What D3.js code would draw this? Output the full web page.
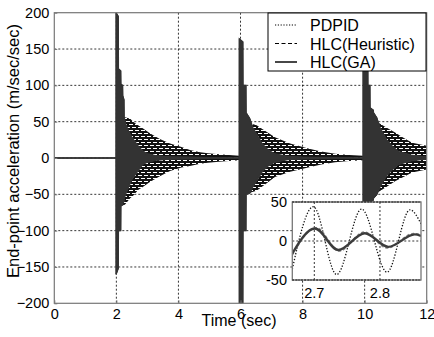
<!DOCTYPE html>
<html>
<head>
<meta charset="utf-8">
<script src="https://cdn.jsdelivr.net/npm/d3@7"></script>
<style>
  body { margin: 0; background: #fff; }
  svg { display: block; font-family: "Liberation Sans", Arial, sans-serif; }
</style>
</head>
<body>
<div id="chart"></div>
<script>
// envelopes: [time, upper, lower]
const pdpidEnv = [
  [0, 0, 0], [1.995, 0, 0],
  [2.0, 60, -70], [2.28, 56, -64], [2.45, 54, -55], [2.54, 50, -52], [2.7, 45, -44],
  [2.85, 41, -40], [3.08, 34, -33], [3.4, 26, -25], [3.73, 20, -18], [4.1, 15, -13],
  [4.37, 11, -11], [4.7, 8, -8], [4.95, 6.5, -6.5], [5.3, 5, -5], [5.96, 3, -3],
  [5.97, 50, -50], [6.3, 48, -48], [6.52, 45, -45], [6.8, 37, -36], [7.11, 28.6, -26],
  [7.6, 20, -19], [8.18, 13, -13], [8.6, 9, -9], [9.05, 6, -6], [9.5, 4, -4], [9.95, 3, -3],
  [9.96, 52, -52], [10.43, 49, -47], [10.7, 42, -40], [10.98, 35, -32], [11.25, 28, -26],
  [11.53, 21, -20], [12, 17, -16]
];
const heuristicEnv = [
  [0, 0, 0], [1.99, 0, 0],
  [1.992, 200, -160], [2.062, 195, -152], [2.066, 123, -100], [2.14, 120, -100],
  [2.145, 102, -65], [2.2, 100, -65], [2.205, 86, -62], [2.245, 80, -60],
  [2.25, 57, -56], [2.3, 47, -50], [2.4, 37, -40], [2.5, 29, -30], [2.7, 17, -18],
  [2.85, 10, -9], [3.0, 6, -6], [3.3, 3, -3], [3.8, 1.5, -1.5], [5.96, 0, 0],
  [5.962, 164, -200], [6.075, 160, -200], [6.08, 100, -100], [6.175, 100, -100],
  [6.18, 63, -50], [6.3, 55, -49], [6.4, 42, -40], [6.55, 31, -30], [6.7, 20, -19],
  [6.9, 11, -11], [7.1, 6, -6], [7.5, 2.5, -2.5], [8.0, 1, -1], [9.95, 0, 0],
  [9.952, 185, -150], [10.1, 180, -150], [10.105, 100, -61], [10.17, 100, -61],
  [10.175, 69, -61], [10.28, 66, -58], [10.285, 63, -56], [10.39, 56, -51],
  [10.5, 42, -40], [10.7, 26, -25], [10.9, 16, -16], [11.1, 9, -9], [11.5, 4, -4], [12, 1.5, -1.5]
];
const gaEnv = [
  [0, 0, 0], [1.99, 0, 0],
  [1.992, 200, -160], [2.062, 195, -152], [2.066, 123, -100], [2.14, 120, -100],
  [2.145, 102, -65], [2.2, 100, -65], [2.205, 86, -62], [2.245, 80, -60],
  [2.25, 56, -55], [2.3, 45, -48], [2.4, 35, -38], [2.5, 27, -28], [2.7, 16, -16],
  [2.85, 9, -8], [3.0, 5, -5], [3.3, 2.5, -2.5], [3.8, 1, -1], [5.96, 0, 0],
  [5.962, 164, -200], [6.075, 160, -200], [6.08, 100, -100], [6.175, 100, -100],
  [6.18, 62, -49], [6.3, 53, -48], [6.4, 40, -38], [6.55, 30, -28], [6.7, 18, -18],
  [6.9, 10, -10], [7.1, 5, -5], [7.5, 2, -2], [8.0, 1, -1], [9.95, 0, 0],
  [9.952, 185, -150], [10.1, 180, -150], [10.105, 100, -61], [10.17, 100, -61],
  [10.175, 69, -61], [10.28, 66, -58], [10.285, 62, -55], [10.39, 55, -50],
  [10.5, 40, -38], [10.7, 25, -24], [10.9, 15, -15], [11.1, 8, -8], [11.5, 3, -3], [12, 1, -1]
];

// zoomed window around t = 2.7 .. 2.86 (peaks / troughs)
const insetPdpid = [[2.6665, -36], [2.6985, 44], [2.734, -43], [2.772, 41], [2.8108, -40], [2.8457, 40], [2.8625, 22]];
const insetHeuristic = [[2.6665, -18], [2.703, 17], [2.738, -13], [2.776, 11.5], [2.811, -9], [2.851, 9.5], [2.8625, 8]];
const insetGA = [[2.6665, -16], [2.701, 16], [2.7365, -11.5], [2.777, 10], [2.8127, -7.5], [2.853, 8.5], [2.8625, 6.5]];

const xTicks = [0, 2, 4, 6, 8, 10, 12];
const yTicks = [-200, -150, -100, -50, 0, 50, 100, 150, 200];
const insetXTicks = [2.7, 2.8];
const insetYTicks = [-50, 0, 50];
const legendNames = ["PDPID", "HLC(Heuristic)", "HLC(GA)"];

const W = 434, H = 337;
const svg = d3.select("#chart").append("svg").attr("width", W).attr("height", H);

const x = d3.scaleLinear().domain([0, 12]).range([54.3, 426.7]);
const y = d3.scaleLinear().domain([-200, 200]).range([303.3, 12.7]);

const defs = svg.append("defs");
defs.append("clipPath").attr("id", "clipMain").append("rect")
  .attr("x", x(0)).attr("y", y(200)).attr("width", x(12) - x(0)).attr("height", y(-200) - y(200));
// dense dotted oscillation shows up as a speckled band
const pat = defs.append("pattern").attr("id", "dotTex")
  .attr("patternUnits", "userSpaceOnUse").attr("width", 6).attr("height", 6);
pat.append("rect").attr("width", 6).attr("height", 6).attr("fill", "#111");
pat.append("rect").attr("x", 0).attr("y", 1).attr("width", 4).attr("height", 1).attr("fill", "#fff");
pat.append("rect").attr("x", 3).attr("y", 4).attr("width", 3).attr("height", 1).attr("fill", "#fff");
pat.append("rect").attr("x", 0).attr("y", 4).attr("width", 1).attr("height", 1).attr("fill", "#fff");

// grid
const grid = svg.append("g").attr("stroke", "#000").attr("stroke-width", 0.8).attr("stroke-dasharray", "2,2");
grid.selectAll(".gx").data(xTicks.slice(1, -1)).join("line")
  .attr("x1", d => x(d)).attr("x2", d => x(d)).attr("y1", y(200)).attr("y2", y(-200));
grid.selectAll(".gy").data(yTicks.slice(1, -1)).join("line")
  .attr("y1", d => y(d)).attr("y2", d => y(d)).attr("x1", x(0)).attr("x2", x(12));

const area = d3.area().x(d => x(d[0])).y0(d => y(d[2])).y1(d => y(d[1]));
const plot = svg.append("g").attr("clip-path", "url(#clipMain)");
plot.append("path").datum(pdpidEnv).attr("d", area).attr("fill", "url(#dotTex)");
plot.append("path").datum(heuristicEnv).attr("d", area).attr("fill", "#3a3a3a")
  .attr("stroke", "#3a3a3a").attr("stroke-width", 1);
plot.append("path").datum(gaEnv).attr("d", area).attr("fill", "#333")
  .attr("stroke", "#333").attr("stroke-width", 1.3);

// axes box
svg.append("rect").attr("x", x(0)).attr("y", y(200)).attr("width", x(12) - x(0)).attr("height", y(-200) - y(200))
  .attr("fill", "none").attr("stroke", "#777").attr("stroke-width", 1.2);

svg.append("g").attr("transform", `translate(0,${y(-200)})`)
  .call(d3.axisBottom(x).tickValues(xTicks).tickSize(-3).tickPadding(5).tickFormat(d3.format("d")))
  .call(g => g.select(".domain").remove())
  .call(g => g.selectAll("line").attr("stroke", "#777"))
  .call(g => g.selectAll("text").attr("font-size", 14.5).attr("fill", "#000").attr("font-family", null));
svg.append("g").attr("transform", `translate(${x(0)},0)`)
  .call(d3.axisLeft(y).tickValues(yTicks).tickSize(-3).tickPadding(5).tickFormat(d3.format("d")))
  .call(g => g.select(".domain").remove())
  .call(g => g.selectAll("line").attr("stroke", "#777"))
  .call(g => g.selectAll("text").attr("font-size", 14.5).attr("fill", "#000").attr("font-family", null));

svg.append("text").attr("x", 239).attr("y", 326).attr("text-anchor", "middle")
  .attr("font-size", 16).text("Time (sec)");
svg.append("text").attr("transform", "translate(19,151) rotate(-90)").attr("text-anchor", "middle")
  .attr("font-size", 16.5).text("End-point acceleration (m/sec/sec)");

// legend
const lg = svg.append("g").attr("transform", "translate(268,13)");
lg.append("rect").attr("width", 158).attr("height", 58).attr("fill", "#fff").attr("stroke", "#000").attr("stroke-width", 1);
const legendStyles = [
  { dash: "1.2,1.6", w: 1.2, c: "#000" },
  { dash: "4,2.5", w: 1.2, c: "#000" },
  { dash: null, w: 1.8, c: "#333" }
];
legendNames.forEach((name, i) => {
  const cy = 12 + i * 18.5;
  lg.append("line").attr("x1", 7).attr("x2", 29).attr("y1", cy).attr("y2", cy)
    .attr("stroke", legendStyles[i].c).attr("stroke-width", legendStyles[i].w)
    .attr("stroke-dasharray", legendStyles[i].dash);
  lg.append("text").attr("x", 42).attr("y", cy + 6).attr("font-size", 16).text(name);
});

// inset
const xi = d3.scaleLinear().domain([2.6665, 2.8625]).range([292.3, 421]);
const yi = d3.scaleLinear().domain([-50, 50]).range([280, 202]);
defs.append("clipPath").attr("id", "clipInset").append("rect")
  .attr("x", xi.range()[0]).attr("y", yi(50)).attr("width", xi.range()[1] - xi.range()[0]).attr("height", yi(-50) - yi(50));
const ins = svg.append("g");
ins.append("rect").attr("x", xi.range()[0]).attr("y", yi(50)).attr("width", xi.range()[1] - xi.range()[0])
  .attr("height", yi(-50) - yi(50)).attr("fill", "#fff");
const ig = ins.append("g").attr("stroke", "#000").attr("stroke-width", 0.8).attr("stroke-dasharray", "2,2");
ig.selectAll(".ix").data(insetXTicks).join("line")
  .attr("x1", d => xi(d)).attr("x2", d => xi(d)).attr("y1", yi(50)).attr("y2", yi(-50));
ig.selectAll(".iy").data(insetYTicks).join("line")
  .attr("y1", d => yi(d)).attr("y2", d => yi(d)).attr("x1", xi.range()[0]).attr("x2", xi.range()[1]);

const iline = d3.line().x(d => xi(d[0])).y(d => yi(d[1])).curve(d3.curveMonotoneX);
const ip = ins.append("g").attr("clip-path", "url(#clipInset)").attr("fill", "none");
ip.append("path").datum(insetPdpid).attr("d", iline).attr("stroke", "#111").attr("stroke-width", 1.3).attr("stroke-dasharray", "1.3,1.7");
ip.append("path").datum(insetHeuristic).attr("d", iline).attr("stroke", "#888").attr("stroke-width", 1.6).attr("stroke-dasharray", "3,2");
ip.append("path").datum(insetGA).attr("d", iline).attr("stroke", "#3c3c3c").attr("stroke-width", 2.4);

ins.append("rect").attr("x", xi.range()[0]).attr("y", yi(50)).attr("width", xi.range()[1] - xi.range()[0])
  .attr("height", yi(-50) - yi(50)).attr("fill", "none").attr("stroke", "#777").attr("stroke-width", 1.3);
ins.append("g").attr("stroke", "#000").attr("stroke-width", 0.9).attr("stroke-dasharray", "1.5,1.5")
  .selectAll("line").data([-50, 50]).join("line")
  .attr("y1", d => yi(d)).attr("y2", d => yi(d)).attr("x1", xi.range()[0]).attr("x2", xi.range()[1]);

ins.selectAll(".ixl").data(insetXTicks).join("text")
  .attr("x", d => xi(d)).attr("y", 298).attr("text-anchor", "middle").attr("font-size", 14.5)
  .text(d => d.toFixed(1));
ins.selectAll(".iyl").data(insetYTicks).join("text")
  .attr("x", 287).attr("y", d => yi(d) + 5).attr("text-anchor", "end").attr("font-size", 14.5)
  .text(d => d);
</script>
</body>
</html>
